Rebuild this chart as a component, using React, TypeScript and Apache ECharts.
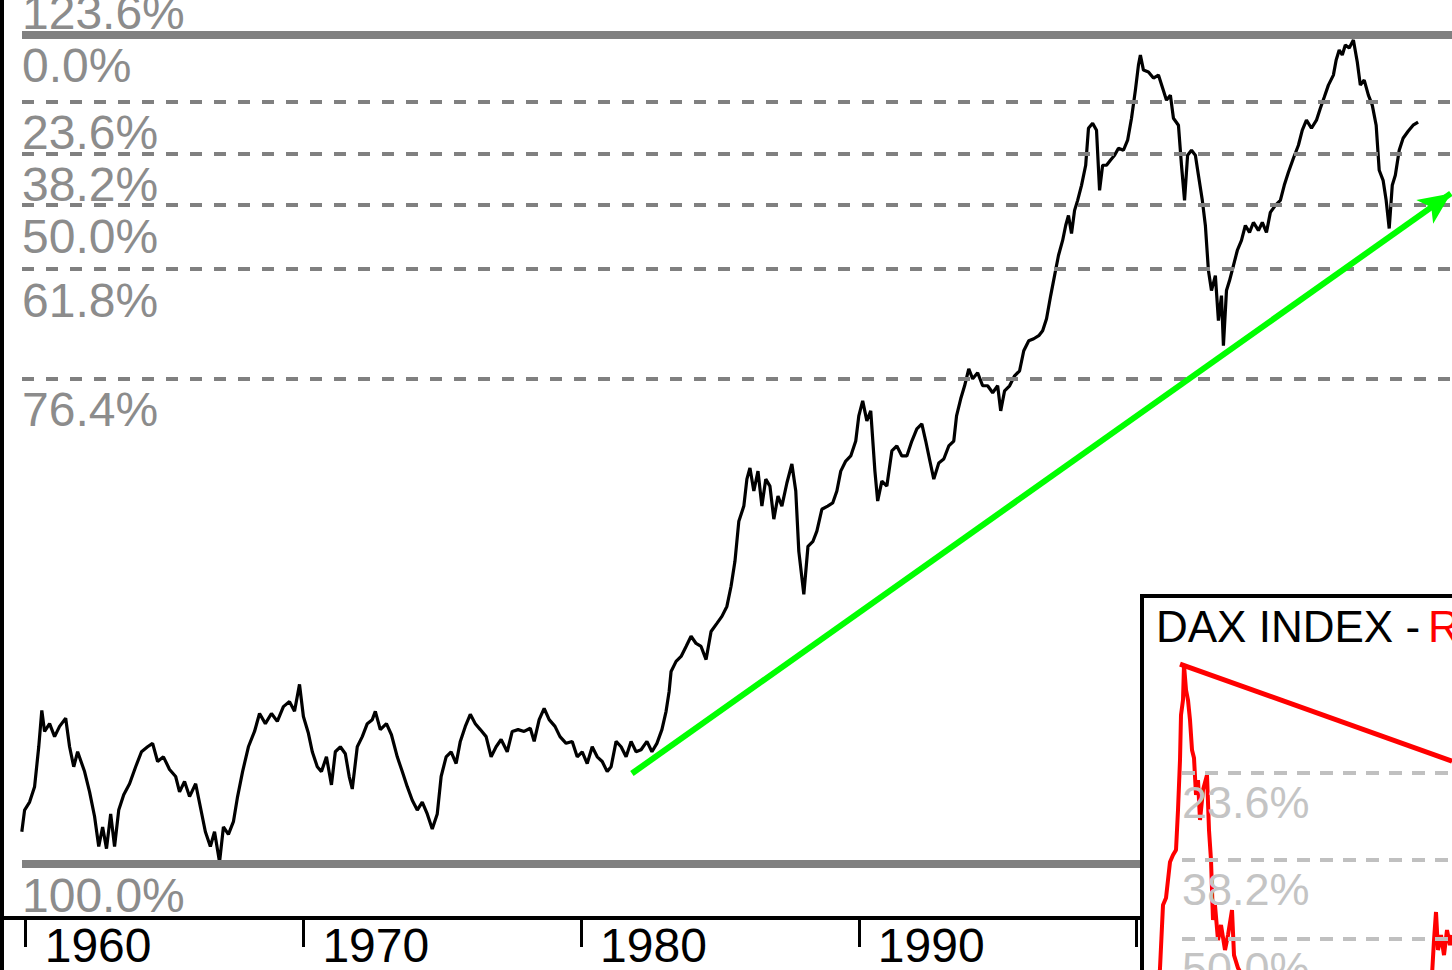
import React, { useEffect, useRef } from 'react';
import * as echarts from 'echarts';

// ---- Main chart data: DAX index (log scale) ----
const years = [
  1959.86, 1959.96, 1960.14, 1960.32, 1960.47, 1960.58, 1960.68, 1960.86, 1961.04, 1961.22,
  1961.44, 1961.58, 1961.73, 1961.87, 1962.12, 1962.30, 1962.48, 1962.63, 1962.77, 1962.91,
  1963.06, 1963.20, 1963.35, 1963.53, 1963.74, 1963.96, 1964.17, 1964.39, 1964.57, 1964.75,
  1964.96, 1965.18, 1965.40, 1965.54, 1965.72, 1965.90, 1966.12, 1966.29, 1966.47, 1966.65,
  1966.80, 1966.98, 1967.12, 1967.30, 1967.48, 1967.63, 1967.81, 1968.02, 1968.24, 1968.42,
  1968.63, 1968.85, 1969.06, 1969.28, 1969.50, 1969.68, 1969.86, 1970.00, 1970.18, 1970.32,
  1970.50, 1970.65, 1970.83, 1971.01, 1971.15, 1971.33, 1971.51, 1971.65, 1971.76, 1971.94,
  1972.12, 1972.30, 1972.48, 1972.59, 1972.77, 1972.99, 1973.17, 1973.38, 1973.56, 1973.74,
  1973.92, 1974.10, 1974.28, 1974.46, 1974.64, 1974.82, 1974.96, 1975.14, 1975.32, 1975.50,
  1975.65, 1975.83, 1976.01, 1976.19, 1976.37, 1976.58, 1976.76, 1976.94, 1977.12, 1977.34,
  1977.52, 1977.73, 1977.95, 1978.17, 1978.31, 1978.49, 1978.67, 1978.85, 1979.06, 1979.24,
  1979.46, 1979.68, 1979.86, 1980.04, 1980.22, 1980.40, 1980.58, 1980.76, 1980.94, 1981.08,
  1981.26, 1981.44, 1981.62, 1981.80, 1981.98, 1982.16, 1982.37, 1982.55, 1982.73, 1982.91,
  1983.06, 1983.17, 1983.24, 1983.42, 1983.60, 1983.78, 1983.96, 1984.14, 1984.32, 1984.50,
  1984.68, 1984.89, 1985.07, 1985.25, 1985.40, 1985.54, 1985.68, 1985.86, 1985.97, 1986.08,
  1986.22, 1986.37, 1986.51, 1986.65, 1986.80, 1986.94, 1987.09, 1987.23, 1987.41, 1987.59,
  1987.73, 1987.84, 1988.02, 1988.17, 1988.35, 1988.49, 1988.67, 1988.88, 1989.06, 1989.21,
  1989.35, 1989.53, 1989.71, 1989.89, 1990.00, 1990.14, 1990.29, 1990.43, 1990.58, 1990.68,
  1990.83, 1991.01, 1991.19, 1991.37, 1991.55, 1991.73, 1991.91, 1992.09, 1992.27, 1992.41,
  1992.56, 1992.70, 1992.88, 1993.06, 1993.24, 1993.42, 1993.52, 1993.67, 1993.81, 1993.96,
  1994.10, 1994.28, 1994.46, 1994.64, 1994.82, 1995.00, 1995.11, 1995.25, 1995.43, 1995.61,
  1995.79, 1995.94, 1996.12, 1996.30, 1996.48, 1996.62, 1996.76, 1996.91, 1997.05, 1997.19,
  1997.34, 1997.45, 1997.55, 1997.66, 1997.77, 1997.88, 1998.02, 1998.17, 1998.27, 1998.42,
  1998.56, 1998.67, 1998.78, 1998.92, 1999.06, 1999.21, 1999.35, 1999.53, 1999.68, 1999.82,
  1999.96, 2000.07, 2000.14, 2000.25, 2000.43, 2000.61, 2000.79, 2000.94, 2001.08, 2001.22,
  2001.33, 2001.51, 2001.62, 2001.73, 2001.84, 2001.98, 2002.12, 2002.23, 2002.37, 2002.48,
  2002.59, 2002.70, 2002.84, 2002.95, 2003.06, 2003.13, 2003.24, 2003.35, 2003.49, 2003.63,
  2003.78, 2003.92, 2004.07, 2004.21, 2004.39, 2004.53, 2004.68, 2004.82, 2005.00, 2005.18,
  2005.32, 2005.47, 2005.65, 2005.83, 2005.97, 2006.12, 2006.30, 2006.48, 2006.62, 2006.76,
  2006.91, 2007.09, 2007.19, 2007.30, 2007.41, 2007.52, 2007.66, 2007.81, 2007.95, 2008.06,
  2008.20, 2008.35, 2008.49, 2008.63, 2008.74, 2008.88, 2008.99, 2009.10, 2009.21, 2009.32,
  2009.46, 2009.60, 2009.78, 2009.96, 2010.14,
];

const daxValues = [
  382, 415, 428, 454, 529, 608, 561, 578, 550, 572,
  590, 529, 490, 519, 481, 445, 405, 361, 389, 358,
  409, 361, 415, 440, 459, 490, 519, 529, 536, 500,
  509, 485, 472, 445, 463, 437, 459, 420, 382, 361,
  382, 340, 389, 378, 397, 437, 481, 529, 561, 601,
  578, 601, 583, 617, 629, 606, 672, 594, 557, 519,
  490, 481, 509, 457, 519, 529, 515, 472, 450, 529,
  550, 578, 587, 606, 565, 578, 554, 509, 481, 454,
  431, 415, 428, 409, 386, 409, 472, 509, 519, 496,
  540, 572, 599, 578, 565, 550, 509, 529, 544, 519,
  561, 565, 561, 568, 540, 587, 613, 587, 572, 550,
  536, 540, 509, 519, 496, 529, 509, 500, 481, 490,
  540, 529, 509, 540, 519, 523, 540, 519, 536, 565,
  606, 654, 706, 734, 748, 777, 808, 786, 777, 739,
  823, 849, 872, 906, 979, 1077, 1256, 1331, 1476, 1540,
  1410, 1522, 1331, 1476, 1437, 1266, 1383, 1331, 1454, 1564,
  1410, 1119, 949, 1141, 1163, 1209, 1315, 1331, 1347, 1410,
  1522, 1582, 1613, 1708, 1881, 1992, 1845, 1917, 1522, 1357,
  1465, 1437, 1644, 1676, 1613, 1613, 1708, 1789, 1824, 1708,
  1582, 1476, 1570, 1594, 1676, 1708, 1881, 2008, 2111, 2253,
  2168, 2219, 2111, 2111, 2055, 2111, 1917, 2071, 2111, 2193,
  2236, 2414, 2509, 2528, 2558, 2607, 2730, 2983, 3221, 3478,
  3685, 3903, 4056, 3785, 4135, 4297, 4552, 4916, 5665, 5777,
  5623, 4465, 4916, 4916, 5011, 5108, 5247, 5207, 5411, 5888,
  6557, 7218, 7501, 7081, 7028, 6867, 6946, 6608, 6310, 6432,
  5888, 5732, 4916, 4297, 5108, 5207, 5108, 4730, 4297, 3903,
  3283, 3041, 3221, 2710, 2983, 2461, 3041, 3160, 3347, 3546,
  3685, 3903, 3800, 3948, 3829, 3948, 3800, 4103, 4215, 4297,
  4552, 4785, 5050, 5308, 5623, 5843, 5665, 5843, 6118, 6382,
  6684, 6946, 7358, 7646, 7501, 7795, 7705, 7946, 7302, 6684,
  6814, 6432, 6190, 5732, 4822, 4640, 4297, 3858, 4552, 4730,
  5207, 5453, 5601, 5732, 5800,
];

// Fibonacci retracement levels (percent of swing, measured down from the high)
const fibPercents = [0, 23.6, 38.2, 50, 61.8, 76.4, 100];
// Fibonacci extension level (percent of swing, measured up from the low)
const fibExtensionPercents = [123.6];
const swingHigh = 8100;
const swingLow = 337.5;

// Green up-trend arrow
const trendYears = [1981.83, 2011.32];
const trendValues = [477.5, 4413];

// x-axis ticks
const tickYears = [1960, 1970, 1980, 1990, 2000];

// axis ranges
const mainXRange = [1959.8668, 2011.361];
const mainYRange = [274.4, 10392];

// ---- Inset chart data ----
const insetTitle = 'DAX INDEX -';
const insetTitleRed = 'R';
const insetX = [
  13, 15, 18, 21, 23, 25, 28, 31, 33, 35,
  36, 38, 39, 41, 43, 45, 47, 49, 51, 53,
  55, 58, 62, 64, 66, 68, 70, 73, 76, 80,
  83, 87, 89, 93, 97, 115, 155, 255, 285, 287,
  289, 291, 293, 296, 299, 302, 305, 307,
];
const insetValues = [
  4954, 5183, 5665, 5722, 5869, 6020, 6080, 6123, 6478, 6952,
  7408, 7566, 7949, 7674, 7566, 7356, 7051, 6972, 6617, 6758,
  6388, 6664, 6806, 6298, 6037, 5547, 5665, 5392, 5508, 5317,
  5430, 5626, 5279, 5183, 5132, 4954, 4617, 4617, 4954, 5132,
  5392, 5610, 5317, 5430, 5279, 5469, 5354, 5430,
];
const insetPercents = [0, 23.6, 38.2, 50];
const insetHigh = 8100;
const insetLow = 2700;
const insetLevelStartX = 37;
const insetTrendX = [35, 307];
const insetTrendValues = [7960, 6940];
const insetXRange = [0, 307];
const insetYRange = [5169, 8713];

const FONT = '"Liberation Sans", Arial, Helvetica, sans-serif';

export default function App() {
  const ref = useRef<HTMLDivElement>(null);

  useEffect(() => {
    document.body.style.margin = '0';
    const chart = echarts.init(ref.current as HTMLDivElement, null, { renderer: 'svg' });

    const n = Math.min(years.length, daxValues.length);
    const mainData: number[][] = [];
    for (let i = 0; i < n; i++) mainData.push([years[i], daxValues[i]]);

    const swing = swingHigh - swingLow;
    const mainLevels: any[] = fibPercents.map((p) => {
      const v = swingHigh - (p / 100) * swing;
      const solid = p === 0 || p === 100;
      return {
        yAxis: v,
        name: p.toFixed(1) + '%',
        lineStyle: solid
          ? { type: 'solid', width: 8, color: '#808080' }
          : { type: [12, 12], width: 4, color: '#808080' },
      };
    });
    fibExtensionPercents.forEach((p) => {
      mainLevels.push({
        yAxis: swingLow + (p / 100) * swing,
        name: p.toFixed(1) + '%',
        lineStyle: { type: 'solid', width: 8, color: '#808080' },
      });
    });

    const m2 = Math.min(insetX.length, insetValues.length);
    const insetData: number[][] = [];
    for (let i = 0; i < m2; i++) insetData.push([insetX[i], insetValues[i]]);

    const insetLevels = insetPercents.map((p) => {
      const v = insetHigh - (p / 100) * (insetHigh - insetLow);
      return [
        {
          coord: [insetLevelStartX, v],
          name: p.toFixed(1) + '%',
          lineStyle: { type: [13, 10], width: 4, color: '#c0c0c0', opacity: p === 0 ? 0 : 1 },
        },
        { coord: [insetXRange[1], v] },
      ];
    });

    const option: any = {
      animation: false,
      backgroundColor: '#ffffff',
      textStyle: { fontFamily: FONT },
      grid: [
        { left: 22, top: -30, width: 1430, height: 948, containLabel: false, outerBoundsMode: 'none' },
        { left: 1145, top: 600, width: 307, height: 370, containLabel: false, outerBoundsMode: 'none' },
      ],
      xAxis: [
        {
          gridIndex: 0,
          type: 'value',
          min: mainXRange[0],
          max: mainXRange[1],
          axisLine: { show: true, onZero: false, lineStyle: { color: '#000', width: 4 } },
          axisTick: { show: true, customValues: tickYears, length: 29, lineStyle: { color: '#000', width: 3 } },
          axisLabel: {
            show: true,
            customValues: tickYears,
            color: '#000',
            fontSize: 48,
            fontFamily: FONT,
            align: 'left',
            padding: [0, 0, 0, 19],
            margin: 3,
            formatter: (v: number) => String(Math.round(v)),
          },
          splitLine: { show: false },
        },
        {
          gridIndex: 1,
          type: 'value',
          min: insetXRange[0],
          max: insetXRange[1],
          show: false,
          splitLine: { show: false },
        },
      ],
      yAxis: [
        {
          gridIndex: 0,
          type: 'log',
          logBase: 10,
          min: mainYRange[0],
          max: mainYRange[1],
          show: false,
          splitLine: { show: false },
        },
        {
          gridIndex: 1,
          type: 'log',
          logBase: 10,
          min: insetYRange[0],
          max: insetYRange[1],
          show: false,
          splitLine: { show: false },
        },
      ],
      series: [
        {
          name: 'DAX',
          type: 'line',
          xAxisIndex: 0,
          yAxisIndex: 0,
          data: mainData,
          symbol: 'none',
          showSymbol: false,
          silent: true,
          z: 2,
          lineStyle: { color: '#000', width: 3.2 },
          itemStyle: { color: '#000' },
          markLine: {
            silent: true,
            z: 4,
            symbol: ['none', 'none'],
            label: {
              show: true,
              position: 'insideStartBottom',
              distance: [0, 7],
              formatter: '{b}',
              color: '#8c8c8c',
              fontSize: 48,
              fontFamily: FONT,
            },
            emphasis: { disabled: true },
            data: mainLevels,
          },
        },
        {
          name: 'Trend',
          type: 'line',
          xAxisIndex: 0,
          yAxisIndex: 0,
          silent: true,
          z: 5,
          symbol: 'none',
          showSymbol: true,
          clip: false,
          lineStyle: { color: '#00ff00', width: 6 },
          itemStyle: { color: '#00ff00' },
          data: [
            { value: [trendYears[0], trendValues[0]], symbol: 'none' },
            {
              value: [trendYears[1], trendValues[1]],
              symbol: 'arrow',
              symbolSize: [22, 32],
              symbolRotate: -54.8,
            },
          ],
        },
        {
          name: 'Inset',
          type: 'line',
          xAxisIndex: 1,
          yAxisIndex: 1,
          data: insetData,
          symbol: 'none',
          showSymbol: false,
          silent: true,
          z: 7,
          lineStyle: { color: '#ff0000', width: 4 },
          itemStyle: { color: '#ff0000' },
          markLine: {
            silent: true,
            z: 8,
            symbol: ['none', 'none'],
            label: {
              show: true,
              position: 'insideStartBottom',
              distance: [0, 7],
              formatter: '{b}',
              color: '#c4c4c4',
              fontSize: 45,
              fontFamily: FONT,
            },
            emphasis: { disabled: true },
            data: insetLevels,
          },
        },
        {
          name: 'InsetTrend',
          type: 'line',
          xAxisIndex: 1,
          yAxisIndex: 1,
          silent: true,
          z: 9,
          symbol: 'none',
          showSymbol: false,
          lineStyle: { color: '#ff0000', width: 5 },
          itemStyle: { color: '#ff0000' },
          data: [
            [insetTrendX[0], insetTrendValues[0]],
            [insetTrendX[1], insetTrendValues[1]],
          ],
        },
      ],
      graphic: [
        { type: 'rect', z: 6, silent: true, shape: { x: 1142, y: 596, width: 330, height: 400 }, style: { fill: '#ffffff', stroke: '#000000', lineWidth: 4 } },
        { type: 'rect', z: 20, silent: true, shape: { x: 0, y: 0, width: 4, height: 970 }, style: { fill: '#000000' } },
        { type: 'rect', z: 20, silent: true, shape: { x: 0, y: 916, width: 24, height: 4 }, style: { fill: '#000000' } },
        {
          type: 'text', z: 10, silent: true, x: 1156, y: 604,
          style: { text: insetTitle, fill: '#000000', fontSize: 44, fontFamily: FONT, align: 'left', verticalAlign: 'top' },
        },
        {
          type: 'text', z: 10, silent: true, x: 1428, y: 604,
          style: { text: insetTitleRed, fill: '#ff0000', fontSize: 44, fontFamily: FONT, align: 'left', verticalAlign: 'top' },
        },
      ],
    };

    chart.setOption(option);
    return () => {
      chart.dispose();
    };
  }, []);

  return <div ref={ref} style={{ position: 'absolute', left: 0, top: 0, width: 1452, height: 970 }} />;
}
